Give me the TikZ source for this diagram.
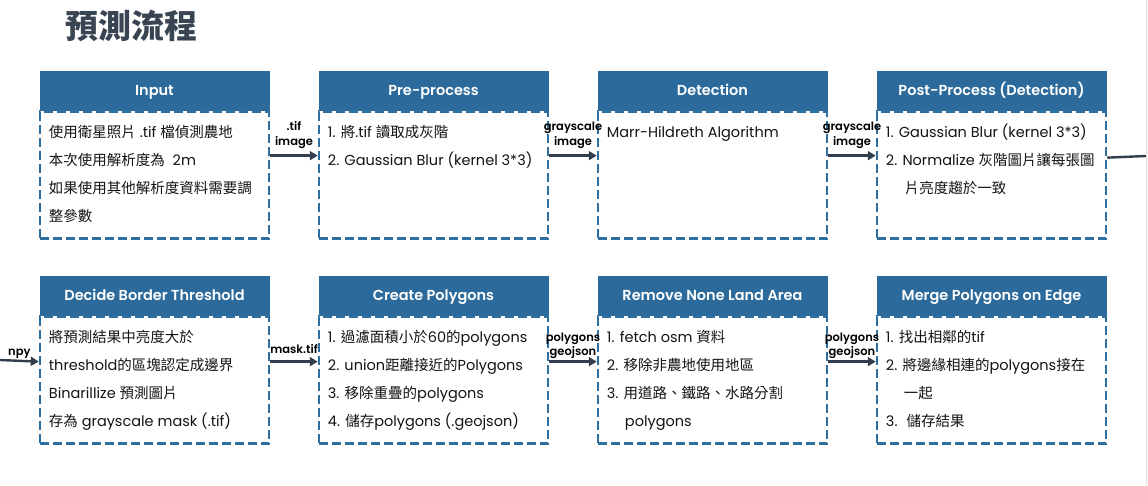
\documentclass[tikz,border=0pt]{standalone}
\usepackage{fontspec}
\usetikzlibrary{arrows.meta}
\setmainfont{Poppins}[BoldFont={Poppins SemiBold}]
\newfontfamily\cjkfont{Noto Sans CJK TC}
% automatic switch to the CJK font for CJK characters
\XeTeXinterchartokenstate=1
\newXeTeXintercharclass\cjkclassno
\newcount\cjkcnt
\newcommand\setcjkrange[2]{\cjkcnt=#1\relax\loop\XeTeXcharclass\cjkcnt=\cjkclassno\relax\ifnum\cjkcnt<#2\advance\cjkcnt by 1\repeat}
\setcjkrange{"3000}{"303F}
\setcjkrange{"4E00}{"9FFF}
\setcjkrange{"FF00}{"FFEF}
\XeTeXinterchartoks 0 \cjkclassno = {\cjkfont}
\XeTeXinterchartoks 4095 \cjkclassno = {\cjkfont}
\XeTeXinterchartoks \cjkclassno 0 = {\rmfamily}
\XeTeXinterchartoks \cjkclassno 4095 = {\rmfamily}
\definecolor{hdrblue}{HTML}{2B6A9A}
\definecolor{dashblue}{HTML}{2F6FA0}
\definecolor{arrowdark}{HTML}{323E4E}
\definecolor{textdark}{HTML}{141414}
\definecolor{titlecol}{HTML}{3A4553}
\definecolor{edgegray}{HTML}{E2E2E2}
\definecolor{edgefill}{HTML}{F8F8F8}
\newcommand\stage[5]{%
  \node[hdr] (h#1) at (#2,#3) {#4};
  \node[bodybox] (b#1) at (h#1.south) {};
  \node[bodytext] (t#1) at ([xshift=10pt,yshift=-13.5pt]b#1.north west) {\rule{0pt}{13pt}#5};
}
\begin{document}
\begin{tikzpicture}[x=1pt,y=-1pt,
  hdr/.style={fill=hdrblue, draw=hdrblue, line width=0.8pt, minimum width=229pt, minimum height=39pt, inner sep=0pt, text=white, text height=10pt, text depth=0pt, font=\fontsize{14.5}{17}\selectfont\bfseries},
  bodybox/.style={draw=dashblue, dash pattern=on 9pt off 4pt, line width=2.5pt, minimum width=229pt, minimum height=127pt, inner sep=0pt, anchor=north},
  bodytext/.style={anchor=north west, inner sep=0pt, align=left, text=textdark, font=\fontsize{14.5}{28}\selectfont},
  flow/.style={draw=arrowdark, line width=2.4pt, -{Triangle[length=8pt,width=9pt]}},
  flowline/.style={draw=arrowdark, line width=2.4pt},
  lbl/.style={font=\fontsize{11.5}{14.5}\selectfont\bfseries, align=center, inner sep=0pt, text=black}
]
\useasboundingbox (0,0) rectangle (1148,486);
\fill[white] (0,0) rectangle (1148,486);
\fill[edgefill] (1147,0) rectangle (1148,486);
\draw[edgegray, line width=1pt] (1146.5,0) -- (1146.5,486);

\node[text=titlecol, inner sep=0pt] (title) at (131,26) {\fontsize{33}{40}\selectfont\bfseries 預測流程};

% top row
\stage{1}{154.5}{90.5}{Input}{使用衛星照片 .tif 檔偵測農地\\本次使用解析度為 \ 2m\\如果使用其他解析度資料需要調\\整參數}
\stage{2}{433.5}{90.5}{Pre-process}{1. 將.tif 讀取成灰階\\2. Gaussian Blur (kernel 3*3)}
\stage{3}{712.5}{90.5}{Detection}{Marr-Hildreth Algorithm}
\stage{4}{991.5}{90.5}{Post-Process (Detection)}{1. Gaussian Blur (kernel 3*3)\\2. Normalize 灰階圖片讓每張圖\\\hspace*{19pt}片亮度趨於一致}

% bottom row
\stage{5}{154.5}{295.5}{Decide Border Threshold}{將預測結果中亮度大於\\threshold的區塊認定成邊界\\Binarillize 預測圖片\\存為 grayscale mask (.tif)}
\stage{6}{433.5}{295.5}{Create Polygons}{1. 過濾面積小於60的polygons\\2. union距離接近的Polygons\\3. 移除重疊的polygons\\4. 儲存polygons (.geojson)}
\stage{7}{712.5}{295.5}{Remove None Land Area}{1. fetch osm 資料\\2. 移除非農地使用地區\\3. 用道路、鐵路、水路分割\\\hspace*{18pt}polygons}
\stage{8}{991.5}{295.5}{Merge Polygons on Edge}{1. 找出相鄰的tif\\2. 將邊緣相連的polygons接在\\\hspace*{18pt}一起\\3. \ 儲存結果}

% connectors top row
\draw[flow] ([yshift=19.5pt]b1.east) -- node[lbl, above=6pt] (l12) {.tif\\image} ([yshift=19.5pt]b2.west);
\draw[flow] ([yshift=19.5pt]b2.east) -- node[lbl, above=6pt] (l23) {grayscale\\image} ([yshift=19.5pt]b3.west);
\draw[flow] ([yshift=19.5pt]b3.east) -- node[lbl, above=6pt] (l34) {grayscale\\image} ([yshift=19.5pt]b4.west);
\coordinate (rowend) at (1146,156);
\draw[flowline] ([yshift=17.5pt]b4.east) -- (rowend);

% connectors bottom row
\coordinate (npystart) at (0,360);
\draw[flow] (npystart) -- node[lbl, above=1.5pt] (lnpy) {npy} ([yshift=18.5pt]b5.west);
\draw[flow] ([yshift=18.5pt]b5.east) -- node[lbl, above=7pt] (l56) {mask.tif} ([yshift=18.5pt]b6.west);
\draw[flow] ([yshift=18.5pt]b6.east) -- node[lbl, above=1.5pt] (l67) {polygons\\geojson} ([yshift=18.5pt]b7.west);
\draw[flow] ([yshift=18.5pt]b7.east) -- node[lbl, above=1.5pt] (l78) {polygons\\geojson} ([yshift=18.5pt]b8.west);
\end{tikzpicture}
\end{document}
